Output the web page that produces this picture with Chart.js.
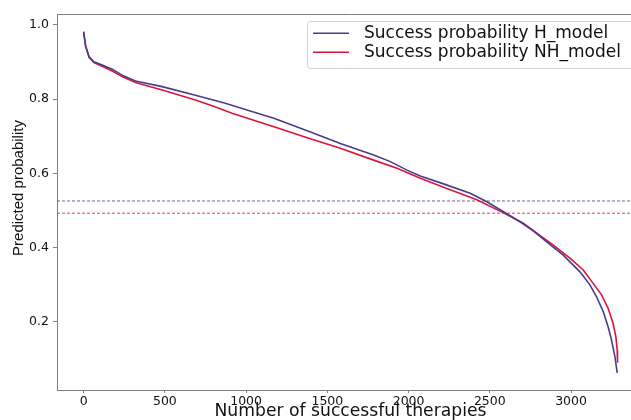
<!DOCTYPE html>
<html>
<head>
<meta charset="utf-8">
<script src="https://cdn.jsdelivr.net/npm/chart.js@4.4.1/dist/chart.umd.min.js"></script>
<style>
html, body { margin: 0; padding: 0; background: #fff; overflow: hidden; }
#wrap { width: 631px; height: 420px; overflow: hidden; }
</style>
</head>
<body>
<div id="wrap"><canvas id="myChart" width="650" height="420"></canvas></div>
<script>
// values
var hX = [0, 12, 33, 63, 114, 176, 237, 319, 483, 688, 872, 1005, 1171, 1376, 1580, 1785, 1888, 1990, 2072, 2215, 2379, 2482, 2584, 2686, 2770, 2850, 2952, 3055, 3116, 3157, 3198, 3228, 3249, 3270, 3284];
var hY = [0.982, 0.942, 0.915, 0.901, 0.892, 0.881, 0.865, 0.849, 0.834, 0.811, 0.789, 0.771, 0.749, 0.715, 0.681, 0.650, 0.632, 0.609, 0.593, 0.572, 0.547, 0.524, 0.497, 0.470, 0.445, 0.416, 0.380, 0.335, 0.300, 0.268, 0.228, 0.187, 0.152, 0.107, 0.063];

var nhX = [0, 12, 33, 63, 114, 176, 237, 319, 483, 688, 800, 913, 1171, 1376, 1580, 1785, 1929, 2072, 2215, 2420, 2584, 2706, 2789, 2891, 2993, 3075, 3136, 3188, 3228, 3259, 3276, 3284, 3286];
var nhY = [0.980, 0.945, 0.913, 0.899, 0.889, 0.876, 0.861, 0.845, 0.825, 0.798, 0.781, 0.762, 0.726, 0.696, 0.668, 0.636, 0.614, 0.587, 0.563, 0.529, 0.494, 0.466, 0.439, 0.407, 0.372, 0.340, 0.304, 0.273, 0.237, 0.196, 0.160, 0.125, 0.090];

var thresholdH = 0.526;
var thresholdNH = 0.493;

var xTicks = [0, 500, 1000, 1500, 2000, 2500, 3000];
var yTicks = [0.2, 0.4, 0.6, 0.8, 1.0];
var seriesLabels = ['Success probability H_model', 'Success probability NH_model'];

var xMin = -164, xMax = 3449;
var yMin = 0.0168, yMax = 1.0296;

var blue = '#483d8b';
var red = '#dc143c';
var spine = '#808080';

function pts(xs, ys) {
  return xs.map(function(x, i) { return {x: x, y: ys[i]}; });
}

Chart.defaults.font.family = 'DejaVu Sans';
Chart.defaults.color = '#111';

// top spine, y label and the legend box
var extras = {
  id: 'extras',
  afterDraw: function(chart) {
    var c = chart.ctx, a = chart.chartArea;
    c.save();
    c.strokeStyle = spine;
    c.lineWidth = 1;
    c.beginPath();
    c.moveTo(a.left, a.top + 0.5);
    c.lineTo(a.right, a.top + 0.5);
    c.stroke();

    c.translate(19, 188);
    c.rotate(-Math.PI / 2);
    c.fillStyle = '#111';
    c.font = '15px "Liberation Sans"';
    c.textAlign = 'center';
    c.textBaseline = 'middle';
    c.fillText('Predicted probability', 0, 0);
    c.restore();

    // legend
    c.save();
    var bx = 307, by = 21, bw = 329, bh = 47, r = 3;
    c.fillStyle = 'rgba(255,255,255,0.8)';
    c.strokeStyle = '#d0d0d0';
    c.lineWidth = 1;
    c.beginPath();
    c.roundRect(bx + 0.5, by + 0.5, bw, bh, r);
    c.fill();
    c.stroke();
    c.font = '17px "DejaVu Sans"';
    c.textAlign = 'left';
    c.textBaseline = 'middle';
    var rows = [33.3, 52.3];
    for (var i = 0; i < 2; i++) {
      var ds = chart.data.datasets[i];
      c.strokeStyle = ds.borderColor;
      c.lineWidth = 1.6;
      c.beginPath();
      c.moveTo(313, rows[i]);
      c.lineTo(349, rows[i]);
      c.stroke();
      c.fillStyle = '#111';
      c.fillText(ds.label, 364, rows[i]);
    }
    c.restore();
  }
};

var ctx = document.getElementById('myChart').getContext('2d');

var myChart = new Chart(ctx, {
  type: 'line',
  data: {
    datasets: [{
      label: seriesLabels[0],
      data: pts(hX, hY),
      borderColor: blue,
      borderWidth: 1.6,
      pointRadius: 0,
      tension: 0,
      fill: false
    }, {
      label: seriesLabels[1],
      data: pts(nhX, nhY),
      borderColor: red,
      borderWidth: 1.6,
      pointRadius: 0,
      tension: 0,
      fill: false
    }, {
      label: 'mean H',
      data: [{x: xMin, y: thresholdH}, {x: xMax, y: thresholdH}],
      borderColor: blue,
      borderWidth: 0.8,
      borderDash: [3, 2],
      pointRadius: 0,
      fill: false
    }, {
      label: 'mean NH',
      data: [{x: xMin, y: thresholdNH}, {x: xMax, y: thresholdNH}],
      borderColor: red,
      borderWidth: 0.8,
      borderDash: [3, 2],
      pointRadius: 0,
      fill: false
    }]
  },
  options: {
    responsive: false,
    animation: false,
    layout: { padding: { left: 0, top: 14, right: 6, bottom: 0 } },
    plugins: {
      legend: { display: false },
      tooltip: { enabled: false }
    },
    scales: {
      x: {
        type: 'linear',
        min: xMin,
        max: xMax,
        afterBuildTicks: function(s) { s.ticks = xTicks.map(function(v) { return {value: v}; }); },
        afterFit: function(s) { s.height = 30; },
        grid: { display: true, drawOnChartArea: false, tickLength: 3, color: spine },
        border: { color: spine, width: 1 },
        ticks: { font: { size: 12.5 }, padding: 1, maxRotation: 0, callback: function(v) { return String(v); } },
        title: { display: true, text: 'Number of successful therapies', font: { size: 17.2, lineHeight: 1 }, padding: 0 }
      },
      y: {
        min: yMin,
        max: yMax,
        afterBuildTicks: function(s) { s.ticks = yTicks.map(function(v) { return {value: v}; }); },
        afterFit: function(s) { s.width = 57; },
        grid: { display: true, drawOnChartArea: false, tickLength: 4, color: spine },
        border: { color: spine, width: 1 },
        ticks: { font: { size: 12.5 }, padding: 4, callback: function(v) { return v.toFixed(1); } }
      }
    }
  },
  plugins: [extras]
});
</script>
</body>
</html>
